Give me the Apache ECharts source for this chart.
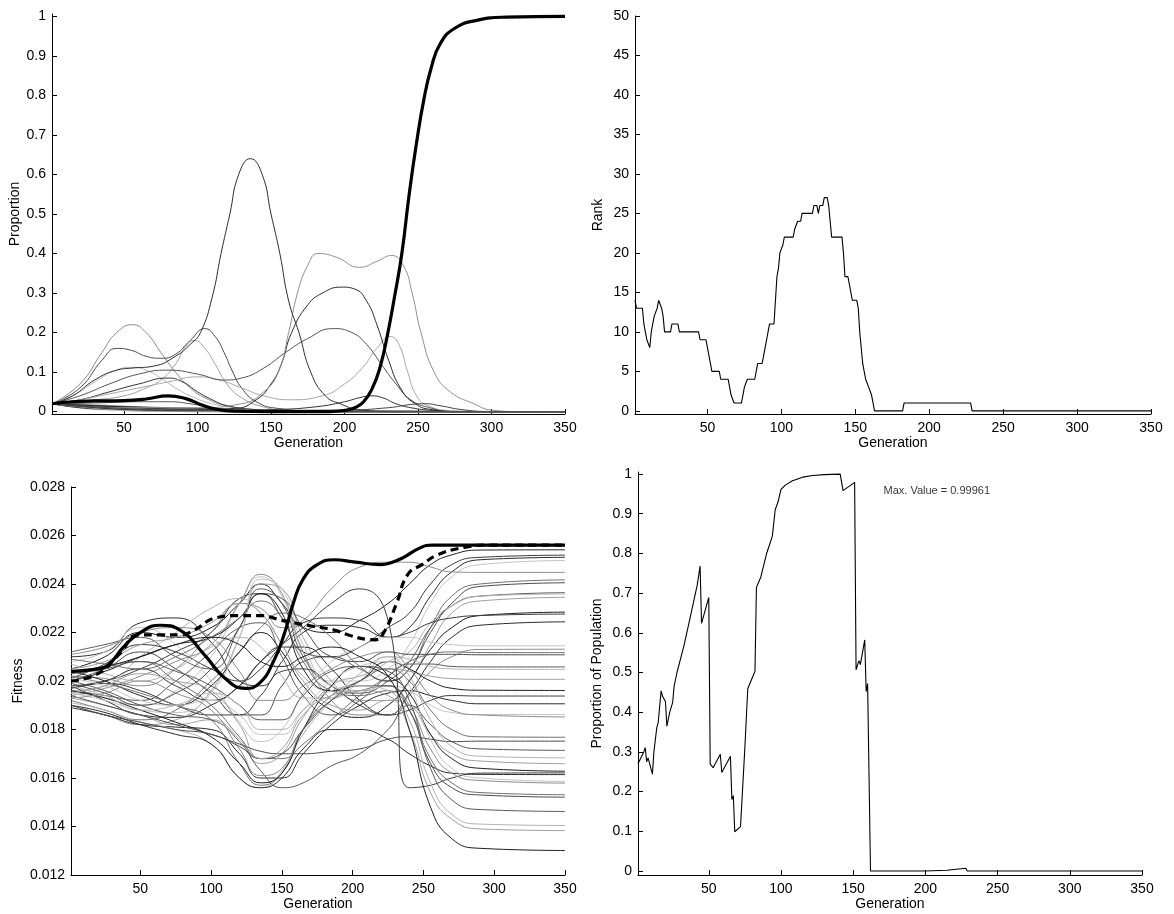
<!DOCTYPE html>
<html><head><meta charset="utf-8">
<script src="https://cdn.jsdelivr.net/npm/echarts@6/dist/echarts.min.js"></script>
<style>html,body{margin:0;padding:0;background:#fff}#c{width:1174px;height:914px}</style>
</head><body><div id="c"></div>
<script>
// ---------- Panel 1: Proportion ----------
const propWinner = [[1,0.02],[15,0.025],[30,0.027],[50,0.028],[65,0.032],[80,0.04],[92,0.033],[103,0.017],[113,0.006],[125,0.001],[150,0],[190,0],[200,0.003],[207,0.01],[213,0.025],[219,0.06],[224,0.11],[229,0.19],[234,0.29],[239,0.4],[244,0.55],[249,0.68],[254,0.79],[259,0.87],[265,0.93],[275,0.97],[290,0.99],[310,0.998],[350,1.0]];
const propPeak64 = [[1,0.02],[15,0.04],[30,0.08],[45,0.105],[55,0.11],[70,0.115],[85,0.14],[95,0.17],[102,0.2],[110,0.29],[116,0.4],[122,0.5],[128,0.6],[136,0.64],[144,0.6],[150,0.5],[156,0.4],[162,0.28],[169,0.2],[177,0.1],[187,0.04],[197,0.02],[210,0.005],[230,0],[350,0]];
const propDouble40 = [[1,0.02],[40,0.01],[100,0.01],[130,0.02],[145,0.05],[155,0.1],[162,0.2],[168,0.3],[175,0.37],[182,0.4],[195,0.39],[210,0.365],[222,0.38],[232,0.395],[240,0.37],[246,0.3],[252,0.2],[261,0.1],[272,0.05],[288,0.02],[300,0.004],[320,0],[350,0]];
const propPeak31 = [[1,0.02],[50,0.012],[100,0.006],[125,0.008],[140,0.03],[150,0.07],[157,0.12],[164,0.2],[175,0.27],[185,0.3],[198,0.315],[207,0.31],[215,0.28],[222,0.22],[230,0.13],[238,0.06],[248,0.02],[260,0.005],[280,0],[350,0]];
const propPeak21b = [[1,0.02],[20,0.04],[40,0.07],[60,0.095],[80,0.105],[100,0.095],[118,0.08],[130,0.085],[145,0.11],[160,0.15],[175,0.185],[192,0.21],[205,0.2],[215,0.17],[225,0.12],[235,0.07],[245,0.03],[258,0.01],[275,0],[350,0]];
const propPeak22 = [[1,0.02],[20,0.07],[35,0.15],[45,0.2],[56,0.22],[65,0.2],[75,0.15],[85,0.1],[95,0.06],[105,0.035],[120,0.015],[140,0.005],[170,0],[350,0]];
const propPeak21a = [[1,0.02],[20,0.06],[35,0.13],[45,0.16],[55,0.155],[65,0.14],[75,0.135],[85,0.145],[95,0.18],[105,0.21],[112,0.19],[118,0.15],[124,0.1],[130,0.06],[140,0.025],[155,0.008],[190,0],[350,0]];
const propPeak18 = [[1,0.02],[30,0.03],[50,0.04],[65,0.06],[75,0.08],[85,0.12],[92,0.165],[98,0.18],[105,0.16],[112,0.12],[120,0.07],[130,0.035],[145,0.012],[165,0],[350,0]];
const propPeak11 = [[1,0.02],[15,0.04],[30,0.075],[45,0.105],[55,0.112],[65,0.105],[75,0.085],[85,0.06],[95,0.04],[110,0.02],[130,0.008],[160,0],[350,0]];
const propPeak085 = [[1,0.02],[20,0.03],[40,0.05],[60,0.07],[80,0.085],[90,0.075],[100,0.05],[110,0.03],[120,0.015],[140,0.005],[170,0],[350,0]];
const propPeak19 = [[1,0.02],[20,0.03],[40,0.045],[60,0.06],[80,0.075],[100,0.088],[115,0.08],[130,0.06],[145,0.04],[163,0.03],[185,0.04],[200,0.07],[212,0.11],[222,0.16],[231,0.19],[237,0.17],[243,0.1],[249,0.04],[257,0.015],[270,0.003],[290,0],[350,0]];
const propBump04 = [[1,0.02],[30,0.01],[60,0.004],[100,0.002],[150,0.005],[180,0.012],[200,0.025],[210,0.035],[218,0.04],[226,0.035],[235,0.02],[245,0.01],[260,0.003],[280,0],[350,0]];
const propBump02 = [[1,0.02],[50,0.008],[100,0.003],[200,0.004],[230,0.01],[245,0.018],[255,0.02],[265,0.015],[280,0.005],[300,0],[350,0]];
const propLow025 = [[1,0.02],[30,0.022],[60,0.025],[80,0.025],[95,0.02],[110,0.01],[130,0.004],[160,0],[350,0]];
const propMain = [
  {d: propPeak22, c:'#8c8c8c'}, {d: propPeak21a, c:'#4a4a4a'}, {d: propPeak18, c:'#a0a0a0'},
  {d: propPeak11, c:'#b8b8b8'}, {d: propPeak085, c:'#333333'}, {d: propPeak19, c:'#a8a8a8'},
  {d: propPeak21b, c:'#555555'}, {d: propPeak31, c:'#2a2a2a'}, {d: propDouble40, c:'#909090'},
  {d: propPeak64, c:'#2e2e2e'}, {d: propBump04, c:'#333333'}, {d: propBump02, c:'#444444'},
  {d: propLow025, c:'#555555'}
];
const decayGen = [1, 20, 40, 60, 80, 100, 130, 170, 350];
const decayLines = [
  [0.02,0.014,0.009,0.006,0.004,0.002,0.001,0,0],
  [0.02,0.012,0.007,0.004,0.002,0.001,0,0,0],
  [0.02,0.016,0.012,0.009,0.006,0.004,0.002,0.0005,0],
  [0.02,0.01,0.005,0.002,0.001,0,0,0,0],
  [0.02,0.018,0.014,0.011,0.008,0.005,0.003,0.001,0],
  [0.02,0.013,0.008,0.005,0.003,0.002,0.001,0,0],
  [0.02,0.015,0.011,0.008,0.005,0.003,0.0015,0,0],
  [0.02,0.011,0.006,0.003,0.0015,0.0005,0,0,0],
  [0.02,0.017,0.013,0.01,0.007,0.005,0.003,0.001,0],
  [0.02,0.009,0.004,0.002,0.001,0,0,0,0],
  [0.02,0.014,0.01,0.007,0.005,0.004,0.003,0.002,0],
  [0.02,0.012,0.008,0.006,0.004,0.003,0.002,0.001,0],
  [0.02,0.016,0.011,0.007,0.004,0.002,0.001,0,0],
  [0.02,0.01,0.006,0.004,0.003,0.002,0.001,0,0],
  [0.02,0.019,0.016,0.012,0.008,0.005,0.002,0.0005,0],
  [0.02,0.013,0.009,0.006,0.004,0.003,0.002,0.001,0],
  [0.02,0.011,0.007,0.005,0.003,0.002,0.001,0,0],
  [0.02,0.015,0.01,0.006,0.003,0.001,0,0,0],
  [0.02,0.017,0.014,0.012,0.01,0.008,0.005,0.002,0],
  [0.02,0.012,0.006,0.003,0.002,0.001,0.0005,0,0]
];
const propTicks = [0,0.1,0.2,0.3,0.4,0.5,0.6,0.7,0.8,0.9,1];

// ---------- Panel 2: Rank ----------
const rankData = [[1,14],[2,13],[6,13],[7,11],[8,10],[9,9],[11,8],[12,10],[14,12],[15,12],[16,13],[17,14],[18,14],[19,13],[20,12],[21,10],[25,10],[26,11],[30,11],[31,10],[44,10],[45,9],[49,9],[50,8],[51,7],[52,6],[53,5],[58,5],[59,4],[64,4],[65,3],[66,2],[67,2],[68,1],[73,1],[74,2],[75,3],[76,3],[77,4],[82,4],[83,5],[84,6],[87,6],[88,7],[89,8],[90,9],[91,10],[92,11],[95,11],[96,14],[97,17],[98,18],[99,20],[100,20],[101,21],[102,22],[108,22],[109,23],[110,23],[111,24],[113,24],[114,25],[121,25],[122,26],[124,26],[125,25],[126,26],[128,26],[129,27],[131,27],[132,26],[133,26],[134,22],[141,22],[142,20],[143,17],[145,17],[146,16],[147,15],[148,14],[151,14],[152,13],[153,10],[154,8],[155,6],[156,5],[157,4],[158,4],[159,3],[160,3],[161,2],[162,1],[163,0],[182,0],[183,1],[228,1],[229,0],[350,0]];
const rankTicks = [0,5,10,15,20,25,30,35,40,45,50];

// ---------- Panel 3: Fitness ----------
const fitWinner = [[1,0.0204],[20,0.0205],[28,0.0207],[38,0.0214],[50,0.022],[64,0.0223],[78,0.0221],[95,0.0211],[110,0.0201],[124,0.0197],[134,0.0199],[144,0.0208],[152,0.022],[158,0.0232],[165,0.0242],[175,0.0248],[187,0.025],[202,0.0249],[220,0.0248],[228,0.0249],[236,0.0251],[248,0.0255],[256,0.0256],[350,0.0256]];
const fitMean = [[1,0.02],[20,0.0203],[35,0.0211],[49,0.0219],[65,0.0219],[78,0.0219],[88,0.0221],[103,0.0226],[119,0.0227],[135,0.0227],[150,0.0225],[168,0.0223],[187,0.0221],[197,0.0219],[210,0.02172],[216,0.0217],[222,0.022],[231,0.0232],[239,0.0244],[249,0.0248],[260,0.0252],[278,0.0255],[295,0.0256],[350,0.0256]];
const fitGen = [1,25,50,75,100,120,135,150,165,185,205,225,240,255,270,290,350];
const fitLines = [
  [0.0205,0.0210,0.0220,0.0218,0.0222,0.0232,0.0240,0.0232,0.0222,0.0220,0.0225,0.0232,0.0240,0.0248,0.0252,0.0254,0.02541],
  [0.0198,0.0200,0.0205,0.0212,0.0220,0.0234,0.0236,0.0226,0.0212,0.0210,0.0214,0.0222,0.0228,0.0240,0.0248,0.0251,0.02519],
  [0.0210,0.0212,0.0224,0.0226,0.0216,0.0200,0.0198,0.0208,0.0220,0.0223,0.0222,0.0218,0.0222,0.0235,0.0245,0.0250,0.0251],
  [0.0195,0.0193,0.0190,0.0196,0.0210,0.0232,0.0243,0.0235,0.0212,0.0200,0.0200,0.0205,0.0215,0.0232,0.0243,0.0248,0.02497],
  [0.0202,0.0201,0.0198,0.0205,0.0220,0.0232,0.0230,0.0222,0.0225,0.0238,0.0247,0.0249,0.0249,0.0247,0.0245,0.02448,0.02448],
  [0.0192,0.0188,0.0184,0.0188,0.0200,0.0212,0.0222,0.0228,0.0226,0.0218,0.0206,0.0200,0.0205,0.0222,0.0235,0.0240,0.02417],
  [0.0200,0.0205,0.0212,0.0205,0.0195,0.0186,0.0186,0.0198,0.0208,0.0210,0.0205,0.0200,0.0205,0.0220,0.0232,0.0239,0.02405],
  [0.0212,0.0215,0.0218,0.0210,0.0205,0.0222,0.0238,0.0232,0.0210,0.0198,0.0195,0.0200,0.0208,0.0222,0.0231,0.0235,0.02364],
  [0.0196,0.0198,0.0210,0.0220,0.0230,0.0234,0.0228,0.0215,0.0202,0.0196,0.0200,0.0208,0.0212,0.0224,0.0231,0.0235,0.02359],
  [0.0190,0.0186,0.0182,0.0184,0.0196,0.0218,0.0240,0.0238,0.0218,0.0200,0.0192,0.0192,0.0200,0.0215,0.0228,0.0233,0.02345],
  [0.0204,0.0200,0.0194,0.0190,0.0198,0.0212,0.0220,0.0212,0.0198,0.0188,0.0185,0.0190,0.0200,0.0213,0.0222,0.0227,0.02284],
  [0.0201,0.0207,0.0215,0.0212,0.0205,0.0200,0.0205,0.0215,0.0224,0.0226,0.0225,0.0218,0.0220,0.0224,0.0226,0.0227,0.02276],
  [0.0198,0.0192,0.0186,0.0185,0.0190,0.0198,0.0208,0.0214,0.0214,0.0205,0.0192,0.0186,0.0195,0.0208,0.0218,0.0223,0.02244],
  [0.0208,0.0212,0.0222,0.0215,0.0200,0.0183,0.0175,0.0180,0.0195,0.0208,0.0214,0.0218,0.0218,0.0216,0.0215,0.02145,0.02145],
  [0.0194,0.0197,0.0202,0.0208,0.0215,0.0232,0.0244,0.0236,0.0212,0.0192,0.0186,0.0186,0.0194,0.0204,0.0210,0.0213,0.02131],
  [0.0203,0.0206,0.0208,0.0200,0.0190,0.0177,0.0168,0.0168,0.0174,0.0184,0.0194,0.0202,0.0208,0.0211,0.0212,0.02117,0.02117],
  [0.0199,0.0195,0.0190,0.0195,0.0205,0.0222,0.0236,0.0234,0.0222,0.0210,0.0208,0.0212,0.0211,0.0211,0.0211,0.02108,0.02108],
  [0.0196,0.0194,0.0192,0.0200,0.0212,0.0222,0.0224,0.0210,0.0194,0.0186,0.0192,0.0202,0.0207,0.0207,0.0206,0.02058,0.02058],
  [0.0207,0.0203,0.0200,0.0205,0.0214,0.0218,0.0214,0.0202,0.0193,0.0193,0.0200,0.0210,0.0209,0.0206,0.0205,0.02048,0.02048],
  [0.0193,0.0190,0.0186,0.0182,0.0184,0.0176,0.0166,0.0170,0.0185,0.0198,0.0202,0.0205,0.0204,0.0202,0.0201,0.02007,0.02007],
  [0.0200,0.0204,0.0210,0.0215,0.0218,0.0226,0.0236,0.0228,0.0205,0.0196,0.0200,0.0208,0.0205,0.0200,0.0197,0.01962,0.01961],
  [0.0197,0.0199,0.0196,0.0190,0.0186,0.0186,0.0194,0.0204,0.0205,0.0198,0.0190,0.0186,0.0188,0.0192,0.0194,0.01938,0.01938],
  [0.0189,0.0186,0.0182,0.0181,0.0180,0.0170,0.0160,0.0160,0.0170,0.0182,0.0190,0.0195,0.0196,0.0194,0.0192,0.01906,0.01906],
  [0.0195,0.0192,0.0188,0.0187,0.0195,0.0218,0.0242,0.0238,0.0215,0.0198,0.0196,0.0198,0.0196,0.0190,0.0187,0.01862,0.01862],
  [0.0211,0.0214,0.0220,0.0222,0.0218,0.0204,0.0192,0.0192,0.0198,0.0205,0.0210,0.0212,0.0205,0.0194,0.0188,0.0186,0.01852],
  [0.0202,0.0199,0.0195,0.0190,0.0184,0.0166,0.0157,0.0162,0.0180,0.0194,0.0200,0.0205,0.0200,0.0188,0.0180,0.0177,0.01768],
  [0.0194,0.0190,0.0186,0.0182,0.0178,0.0174,0.0171,0.0170,0.0170,0.0171,0.0172,0.0176,0.0177,0.0176,0.0175,0.01752,0.01752],
  [0.0200,0.0196,0.0190,0.0186,0.0184,0.0175,0.0163,0.0156,0.0158,0.0165,0.0170,0.0180,0.0190,0.0182,0.0175,0.0172,0.01714],
  [0.0191,0.0188,0.0183,0.0180,0.0174,0.0160,0.0156,0.0163,0.0178,0.0192,0.0203,0.0210,0.0202,0.0184,0.0173,0.0169,0.01683],
  [0.0205,0.0208,0.0215,0.0218,0.0224,0.0232,0.0228,0.0215,0.0200,0.0190,0.0188,0.0192,0.0190,0.0178,0.0170,0.0167,0.01659],
  [0.0196,0.0193,0.0188,0.0183,0.0177,0.0166,0.0158,0.0162,0.0180,0.0198,0.0206,0.0202,0.0195,0.0178,0.0168,0.0164,0.01628],
  [0.0197,0.0200,0.0205,0.0198,0.0192,0.0198,0.0208,0.0215,0.0222,0.0232,0.0238,0.0225,0.0156,0.0157,0.0160,0.0162,0.01621],
  [0.0190,0.0187,0.0182,0.0178,0.0174,0.0160,0.0156,0.0160,0.0172,0.0180,0.0180,0.0176,0.0170,0.0165,0.0162,0.01615,0.01614],
  [0.0201,0.0198,0.0192,0.0190,0.0192,0.0186,0.0178,0.0178,0.0188,0.0200,0.0206,0.0208,0.0198,0.0176,0.0164,0.0160,0.01586],
  [0.0193,0.0195,0.0200,0.0195,0.0188,0.0172,0.0161,0.0164,0.0180,0.0192,0.0196,0.0198,0.0190,0.0172,0.0162,0.0159,0.01579],
  [0.0209,0.0207,0.0205,0.0210,0.0218,0.0226,0.0233,0.0226,0.0208,0.0196,0.0194,0.0196,0.0188,0.0168,0.0158,0.0154,0.01531],
  [0.0190,0.0186,0.0183,0.0180,0.0178,0.0173,0.0168,0.0170,0.0180,0.0192,0.0198,0.0198,0.0188,0.0166,0.0156,0.0153,0.01521],
  [0.0203,0.0205,0.0208,0.0204,0.0198,0.0190,0.0184,0.0184,0.0194,0.0204,0.0206,0.0204,0.0192,0.0164,0.0151,0.0147,0.01462],
  [0.0198,0.0194,0.0188,0.0190,0.0195,0.0190,0.0180,0.0180,0.0188,0.0196,0.0198,0.0196,0.0184,0.0158,0.0145,0.0141,0.01404],
  [0.0195,0.0198,0.0203,0.0200,0.0196,0.0182,0.0168,0.0172,0.0186,0.0194,0.0196,0.0194,0.0180,0.0154,0.0143,0.0139,0.01383],
  [0.0204,0.0206,0.0210,0.0215,0.0218,0.0215,0.0208,0.0206,0.0210,0.0214,0.0210,0.0202,0.0180,0.0148,0.0135,0.0131,0.01301]
];
const fitTicks = [0.012,0.014,0.016,0.018,0.02,0.022,0.024,0.026,0.028];

// ---------- Panel 4: Proportion of Population ----------
const popData = [[1,0.27],[5,0.3],[6,0.311],[7,0.275],[8,0.285],[11,0.244],[12,0.3],[14,0.361],[15,0.374],[17,0.454],[18,0.44],[20,0.427],[21,0.365],[23,0.4],[25,0.425],[26,0.465],[28,0.5],[30,0.528],[31,0.525],[33,0.57],[36,0.62],[39,0.67],[42,0.72],[44,0.768],[45,0.624],[50,0.689],[51,0.27],[53,0.26],[58,0.294],[59,0.248],[65,0.289],[66,0.18],[67,0.19],[68,0.099],[72,0.112],[75,0.311],[76,0.315],[77,0.459],[82,0.503],[83,0.714],[86,0.74],[88,0.769],[90,0.799],[94,0.843],[96,0.91],[98,0.93],[100,0.961],[103,0.972],[108,0.983],[115,0.992],[122,0.996],[130,0.9985],[141,0.9996],[143,0.958],[151,0.979],[152,0.507],[154,0.53],[155,0.52],[158,0.582],[159,0.452],[160,0.472],[162,0],[200,0],[215,0.002],[228,0.007],[229,0],[350,0]];
const popNote = {gen: 171, value: 0.958, text: 'Max. Value = 0.99961'};
const genTicks = [50,100,150,200,250,300,350];

// ---------- build ----------
const FONT = '"Liberation Sans", Arial, Helvetica, sans-serif';
const greys = ['#1e1e1e','#5a5a5a','#8c8c8c','#3c3c3c','#b4b4b4','#707070','#2b2b2b','#a0a0a0','#4b4b4b','#c4c4c4'];

function xAx(gi, gap) {
  return {type:'value', gridIndex:gi, min:1, max:350,
    axisLine:{show:true, onZero:false, lineStyle:{color:'#000', width:1}},
    axisTick:{show:true, inside:true, length:5, customValues:genTicks, lineStyle:{color:'#000'}},
    axisLabel:{show:true, customValues:genTicks, color:'#000', fontSize:14, fontFamily:FONT, margin:7},
    splitLine:{show:false},
    name:'Generation', nameLocation:'middle', nameGap:gap,
    nameTextStyle:{color:'#000', fontSize:14, fontFamily:FONT}};
}
function yAx(gi, min, max, ticks, name, gap) {
  return {type:'value', gridIndex:gi, min:min, max:max,
    axisLine:{show:true, onZero:false, lineStyle:{color:'#000', width:1}},
    axisTick:{show:true, inside:true, length:5, customValues:ticks, lineStyle:{color:'#000'}},
    axisLabel:{show:true, customValues:ticks, color:'#000', fontSize:14, fontFamily:FONT, margin:6},
    splitLine:{show:false},
    name:name, nameLocation:'middle', nameGap:gap,
    nameTextStyle:{color:'#000', fontSize:14, fontFamily:FONT}};
}

const series = [];
function line(gi, data, color, width, extra) {
  series.push(Object.assign({type:'line', xAxisIndex:gi, yAxisIndex:gi, data:data,
    symbol:'none', showSymbol:false, silent:true, smooth:0.5,
    lineStyle:{color:color, width:width}}, extra||{}));
}
// panel 1
decayLines.forEach((v,i)=> line(0, decayGen.map((g,j)=>[g, v[j]]), greys[i%greys.length], 1));
propMain.forEach(p => line(0, p.d, p.c, 1));
line(0, propWinner, '#000', 3.2);
// panel 2
line(1, rankData, '#000', 1.1, {smooth:false});
// panel 3
fitLines.forEach((v,i)=> line(2, fitGen.map((g,j)=>[g, v[j]]), greys[(i*3)%greys.length], 1));
line(2, fitMean, '#000', 3.2, {lineStyle:{color:'#000', width:3.2, type:[8,5]}});
line(2, fitWinner, '#000', 3.2);
// panel 4
line(3, popData, '#000', 1.1, {smooth:false});
series.push({type:'scatter', xAxisIndex:3, yAxisIndex:3, symbolSize:0, silent:true,
  data:[[popNote.gen, popNote.value]],
  label:{show:true, position:'right', distance:0, formatter:popNote.text, color:'#000', fontSize:11, fontFamily:FONT}});

const chart = echarts.init(document.getElementById('c'), null, {renderer:'canvas'});
chart.setOption({
  animation:false,
  backgroundColor:'#fff',
  grid:[
    {left:52, top:14, width:513, height:400},
    {left:635, top:16, width:516, height:398},
    {left:71, top:487, width:494, height:388},
    {left:638, top:472, width:504, height:403}
  ],
  xAxis:[xAx(0,22), xAx(1,22), xAx(2,22), xAx(3,22)],
  yAxis:[
    yAx(0, -0.006, 1.006, propTicks, 'Proportion', 28),
    yAx(1, -0.4, 50, rankTicks, 'Rank', 30),
    yAx(2, 0.012, 0.028, fitTicks, 'Fitness', 46),
    yAx(3, -0.01, 1.005, propTicks, 'Proportion of Population', 34)
  ],
  series:series
});
</script></body></html>
